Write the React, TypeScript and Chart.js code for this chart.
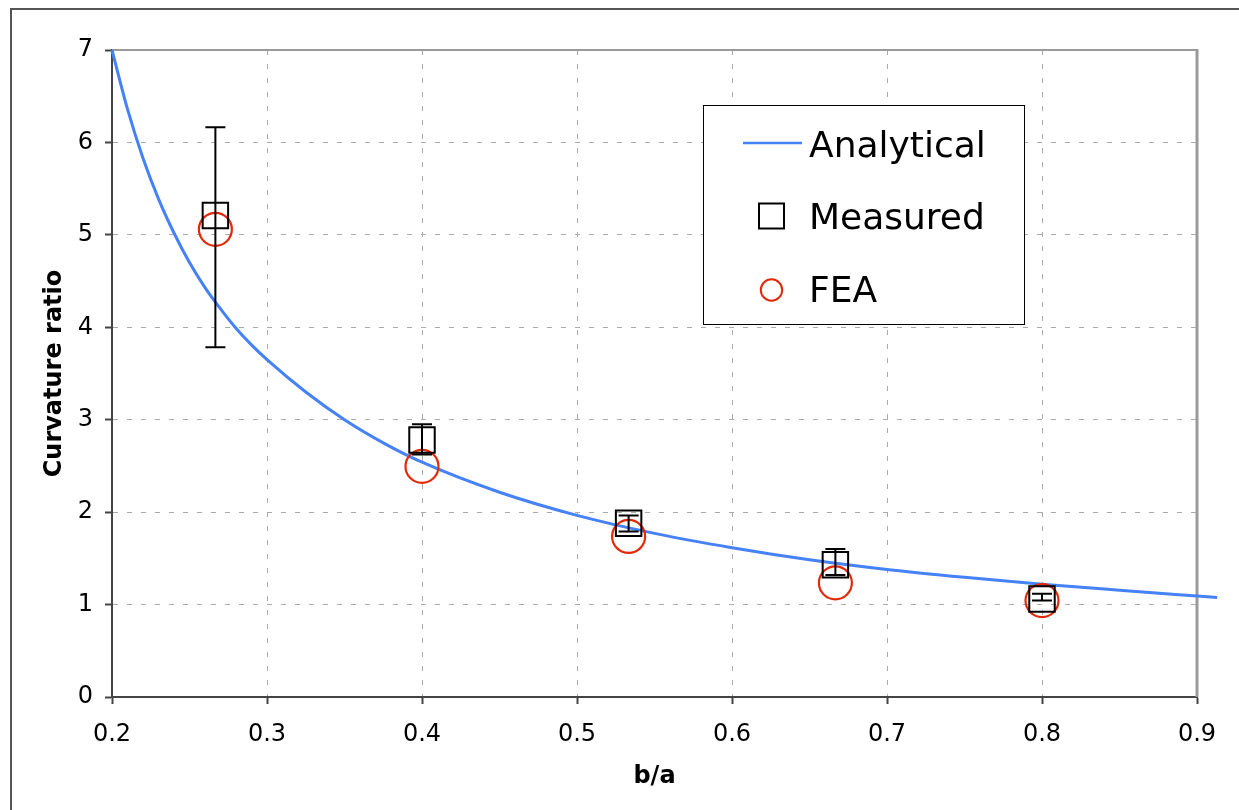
import React, { useEffect, useRef } from 'react';
import { Chart, registerables } from 'chart.js';

Chart.register(...registerables);

// ---- data ----
const analyticalX = [0.2, 0.21, 0.22, 0.23, 0.24, 0.25, 0.26, 0.27, 0.28, 0.29, 0.3, 0.325, 0.35, 0.375, 0.4, 0.45, 0.5, 0.55, 0.6, 0.65, 0.7, 0.75, 0.8, 0.85, 0.9, 0.913];
const analyticalY = [7.0, 6.36, 5.83, 5.39, 5.02, 4.7, 4.43, 4.2, 3.99, 3.81, 3.65, 3.3, 3.0, 2.75, 2.54, 2.215, 1.965, 1.77, 1.615, 1.485, 1.38, 1.295, 1.22, 1.155, 1.093, 1.077];

const sampleX = [0.2667, 0.4, 0.5333, 0.6667, 0.8];
const measuredY = [5.21, 2.78, 1.88, 1.43, 1.06];
const measuredHigh = [6.165, 2.95, 1.965, 1.6, 1.116];
const measuredLow = [3.785, 2.625, 1.79, 1.32, 1.043];
const feaY = [5.06, 2.495, 1.737, 1.235, 1.043];

const xTicks = [0.2, 0.3, 0.4, 0.5, 0.6, 0.7, 0.8, 0.9];
const yTicks = [0, 1, 2, 3, 4, 5, 6, 7];

const seriesLabels = ['Analytical', 'Measured', 'FEA'];
const xTitle = 'b/a';
const yTitle = 'Curvature ratio';

const BLUE = '#4682f7';
const RED = '#e22a0a';
const FONT = '"DejaVu Sans", Verdana, sans-serif';

const pagePlugin = {
  id: 'pageFrame',
  beforeDraw(chart: any) {
    const { ctx, width, height } = chart;
    ctx.save();
    ctx.fillStyle = '#ffffff';
    ctx.fillRect(0, 0, width, height);
    ctx.strokeStyle = '#555555';
    ctx.lineWidth = 2;
    ctx.beginPath();
    ctx.moveTo(11, height + 5);
    ctx.lineTo(11, 9);
    ctx.lineTo(width + 5, 9);
    ctx.stroke();
    ctx.restore();
  },
  beforeDatasetsDraw(chart: any) {
    const { ctx, chartArea } = chart;
    const { left, right, top, bottom } = chartArea;
    ctx.save();
    ctx.strokeStyle = '#9a9a9a';
    ctx.lineWidth = 2;
    ctx.beginPath();
    ctx.moveTo(left, top);
    ctx.lineTo(right, top);
    ctx.stroke();
    ctx.lineWidth = 3;
    ctx.beginPath();
    ctx.moveTo(right, top - 1);
    ctx.lineTo(right, bottom);
    ctx.stroke();
    ctx.restore();
  },
};

const errorBarPlugin = {
  id: 'errorBars',
  afterDatasetsDraw(chart: any) {
    const { ctx } = chart;
    const xs = chart.scales.x;
    const ys = chart.scales.y;
    ctx.save();
    ctx.strokeStyle = '#000000';
    ctx.lineWidth = 2;
    for (let i = 0; i < sampleX.length; i++) {
      const px = xs.getPixelForValue(sampleX[i]);
      const pHi = ys.getPixelForValue(measuredHigh[i]);
      const pLo = ys.getPixelForValue(measuredLow[i]);
      ctx.beginPath();
      ctx.moveTo(px, pHi);
      ctx.lineTo(px, pLo);
      ctx.moveTo(px - 10, pHi);
      ctx.lineTo(px + 10, pHi);
      ctx.moveTo(px - 10, pLo);
      ctx.lineTo(px + 10, pLo);
      ctx.stroke();
    }
    ctx.restore();
  },
};

const legendPlugin = {
  id: 'customLegend',
  afterDraw(chart: any) {
    const { ctx, chartArea } = chart;
    const bx = chartArea.left + 591.5;
    const by = chartArea.top + 55.5;
    const bw = 321;
    const bh = 219;
    ctx.save();
    ctx.fillStyle = '#ffffff';
    ctx.fillRect(bx, by, bw, bh);
    ctx.strokeStyle = '#000000';
    ctx.lineWidth = 1;
    ctx.strokeRect(bx, by, bw, bh);

    const symX = bx + 68;
    const textX = bx + 105.5;
    const symRows = [by + 37.5, by + 110.5, by + 184.5];
    const baselines = [by + 51.5, by + 123, by + 196];

    // Analytical line
    ctx.strokeStyle = BLUE;
    ctx.lineWidth = 2.5;
    ctx.beginPath();
    ctx.moveTo(symX - 28.5, symRows[0]);
    ctx.lineTo(symX + 30.5, symRows[0]);
    ctx.stroke();

    // Measured square
    ctx.strokeStyle = '#000000';
    ctx.lineWidth = 2;
    ctx.strokeRect(symX - 12.5, symRows[1] - 12.5, 25, 25);

    // FEA circle
    ctx.strokeStyle = RED;
    ctx.lineWidth = 2;
    ctx.beginPath();
    ctx.arc(symX, symRows[2], 10.7, 0, Math.PI * 2);
    ctx.stroke();

    ctx.fillStyle = '#000000';
    ctx.font = `36px ${FONT}`;
    ctx.textAlign = 'left';
    ctx.textBaseline = 'alphabetic';
    for (let i = 0; i < seriesLabels.length; i++) {
      ctx.fillText(seriesLabels[i], textX, baselines[i]);
    }
    ctx.restore();
  },
};

export default function App() {
  const canvasRef = useRef<HTMLCanvasElement | null>(null);

  useEffect(() => {
    if (!canvasRef.current) return;
    Chart.defaults.font.family = FONT;
    const chart = new Chart(canvasRef.current, {
      type: 'scatter',
      data: {
        datasets: [
          {
            label: seriesLabels[0],
            type: 'line',
            data: analyticalX.map((x, i) => ({ x, y: analyticalY[i] })),
            borderColor: BLUE,
            borderWidth: 3,
            pointRadius: 0,
            fill: false,
            cubicInterpolationMode: 'monotone',
            clip: false,
            order: 3,
          } as any,
          {
            label: seriesLabels[2],
            data: sampleX.map((x, i) => ({ x, y: feaY[i] })),
            pointStyle: 'circle',
            pointRadius: 16.5,
            pointHoverRadius: 16.5,
            borderColor: RED,
            borderWidth: 2.2,
            backgroundColor: 'rgba(0,0,0,0)',
            showLine: false,
            order: 2,
          } as any,
          {
            label: seriesLabels[1],
            data: sampleX.map((x, i) => ({ x, y: measuredY[i] })),
            pointStyle: 'rect',
            pointRadius: 18,
            pointHoverRadius: 18,
            borderColor: '#000000',
            borderWidth: 2,
            backgroundColor: 'rgba(0,0,0,0)',
            showLine: false,
            order: 1,
          } as any,
        ],
      },
      options: {
        animation: false,
        responsive: false,
        maintainAspectRatio: false,
        events: [],
        layout: { padding: { left: 0, top: 50, right: 42, bottom: 0 } },
        plugins: {
          legend: { display: false },
          tooltip: { enabled: false },
          title: { display: false },
        },
        scales: {
          x: {
            type: 'linear',
            bounds: 'data',
            afterFit: (s: any) => {
              s.height = 113;
            },
            afterBuildTicks: (s: any) => {
              s.min = xTicks[0];
              s.max = xTicks[xTicks.length - 1];
              s.ticks = xTicks.map((v) => ({ value: v }));
            },
            ticks: {
              callback: (v: any) => Number(v).toFixed(1),
              font: { size: 24 },
              color: '#000000',
              padding: 16,
              maxRotation: 0,
              autoSkip: false,
            },
            grid: {
              color: '#aaaaaa',
              lineWidth: 1,
              tickLength: 7,
              tickColor: '#444444',
              tickWidth: 2,
            },
            border: { color: '#444444', width: 2, dash: [5, 9] },
            title: {
              display: true,
              text: xTitle,
              font: { size: 24, weight: 'bold' },
              color: '#000000',
              padding: { top: 0, bottom: 19 },
            },
          },
          y: {
            type: 'linear',
            min: 0,
            max: 7,
            afterFit: (s: any) => {
              s.width = 112;
            },
            afterBuildTicks: (s: any) => {
              s.ticks = yTicks.map((v) => ({ value: v }));
            },
            ticks: {
              callback: (v: any) => String(v),
              font: { size: 24 },
              color: '#000000',
              padding: 12,
              autoSkip: false,
            },
            grid: {
              color: '#aaaaaa',
              lineWidth: 1,
              tickLength: 7,
              tickColor: '#444444',
              tickWidth: 2,
            },
            border: { color: '#444444', width: 2, dash: [5, 9] },
            title: {
              display: true,
              text: yTitle,
              font: { size: 24, weight: 'bold' },
              color: '#000000',
              padding: { top: 40, bottom: 0 },
            },
          },
        },
      } as any,
      plugins: [pagePlugin, errorBarPlugin, legendPlugin],
    });
    return () => chart.destroy();
  }, []);

  return (
    <div style={{ position: 'absolute', left: 0, top: 0, width: 1239, height: 810 }}>
      <canvas ref={canvasRef} width={1239} height={810} style={{ display: 'block', width: 1239, height: 810 }} />
    </div>
  );
}
